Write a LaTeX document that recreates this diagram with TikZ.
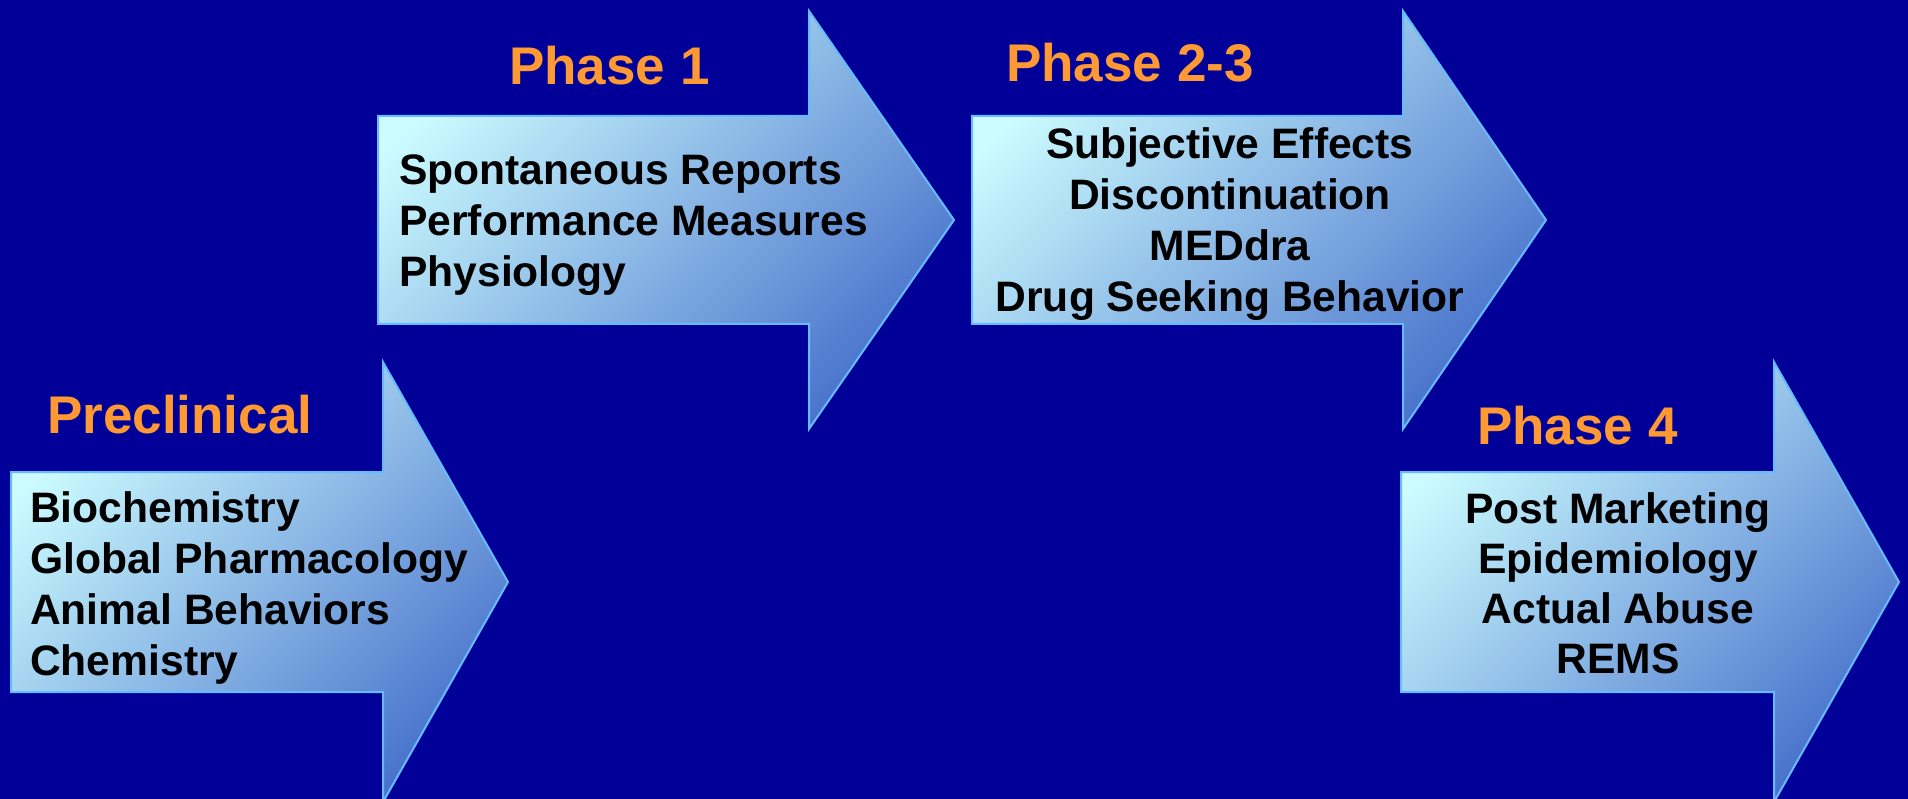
\documentclass[tikz,border=0pt]{standalone}
\usepackage{fontspec}
\setmainfont{Liberation Sans}

\definecolor{slide}{HTML}{000099}
\definecolor{accent}{HTML}{FF9933}
\definecolor{arrowlight}{HTML}{CCFCFF}
\definecolor{arrowdark}{HTML}{4A74CC}
\definecolor{arrowedge}{HTML}{66BBFF}

\tikzset{
  phasearrow/.style={draw=arrowedge, line width=2pt, line join=miter,
    top color=arrowlight, bottom color=arrowdark, shading angle=45},
  head/.style={text=accent, anchor=base west, inner sep=0pt,
    font=\fontsize{53}{60}\selectfont\bfseries},
  body/.style={text=black, inner sep=0pt,
    font=\fontsize{42.6}{51}\selectfont\bfseries},
}

\begin{document}
\begin{tikzpicture}[x=1pt, y=-1pt]
  % slide background
  \fill[slide] (0,0) rectangle (1908,799);
  \useasboundingbox (0,0) rectangle (1908,799);

  % the four stage arrows
  \path[phasearrow] (11,472) -- (383,472) -- (383,362) -- (508,582)
    -- (383,802) -- (383,692) -- (11,692) -- cycle;
  \path[phasearrow] (378,116) -- (809,116) -- (809,11) -- (954,220)
    -- (809,429) -- (809,324) -- (378,324) -- cycle;
  \path[phasearrow] (972,116) -- (1403,116) -- (1403,11) -- (1546,220)
    -- (1403,429) -- (1403,324) -- (972,324) -- cycle;
  \path[phasearrow] (1401,472) -- (1774,472) -- (1774,362) -- (1899,582)
    -- (1774,802) -- (1774,692) -- (1401,692) -- cycle;

  % Preclinical (multi-line nodes are anchored on their last baseline)
  \node[head] (preH) at (47,433) {Preclinical};
  \node[body, align=left, anchor=base west] (preB) at (30,675)
    {Biochemistry\\Global Pharmacology\\Animal Behaviors\\Chemistry};

  % Phase 1
  \node[head] (p1H) at (509,85) {Phase 1};
  \node[body, align=left, anchor=base west] (p1B) at (399,287)
    {Spontaneous Reports\\Performance Measures\\Physiology};

  % Phase 2-3
  \node[head] (p23H) at (1006,82) {Phase 2-3};
  \node[body, font=\fontsize{42.6}{51.3}\selectfont\bfseries, align=center, anchor=base]
    (p23B) at (1230,312)
    {Subjective Effects\\Discontinuation\\MEDdra\\Drug Seeking Behavior};

  % Phase 4
  \node[head] (p4H) at (1477,444) {Phase 4};
  \node[body, font=\fontsize{42.6}{50}\selectfont\bfseries, align=center, anchor=base]
    (p4B) at (1618,673)
    {Post Marketing\\Epidemiology\\Actual Abuse\\REMS};
\end{tikzpicture}
\end{document}
